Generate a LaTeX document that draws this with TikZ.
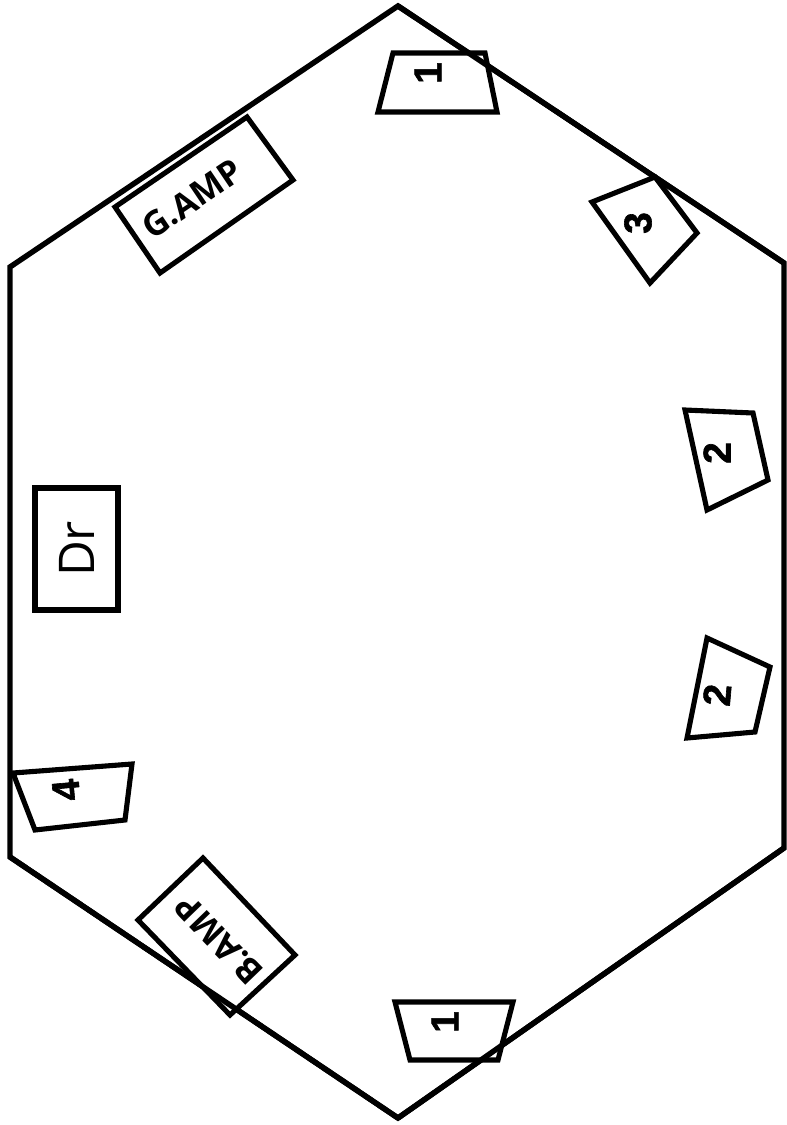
\documentclass[tikz,border=0pt]{standalone}
\usepackage{fontspec}
\setmainfont{Open Sans}
\newfontfamily\numfont{Liberation Sans}[BoldFeatures={FakeBold=1.6}]
\usetikzlibrary{positioning}

\tikzset{
  outline/.style={draw=black, line width=3.1pt},
  wedge/.style={draw=black, line width=2.9pt, fill=white},
  num/.style={font=\numfont\bfseries\fontsize{22}{22}\selectfont, inner sep=0pt},
  amplabel/.style={font=\bfseries\fontsize{19.5}{19.5}\selectfont, inner sep=0pt}
}

\begin{document}
\begin{tikzpicture}[x=0.02cm, y=-0.02cm]
\useasboundingbox (0,0) rectangle (787,1125);

% Stage outline
\draw[outline] (398,6) -- (784,263) -- (784,848) -- (398,1118) -- (10,857) -- (10,267) -- cycle;

% Guitar amp
\draw[wedge] (115,207) -- (247,117) -- (293,180) -- (160,273) -- cycle;
\node[amplabel, rotate=34] (gamp) at (192,199) {G.AMP};

% Bass amp
\draw[wedge] (138,920) -- (203,858) -- (295,955) -- (230,1015) -- cycle;
\node[amplabel, rotate=134] (bamp) at (219,940) {B.AMP};

% Drums
\draw[wedge] (35,488) rectangle (118,610);
\node[font=\fontsize{28}{28}\selectfont, rotate=90, inner sep=0pt] (drums) at (77,549) {Dr};

% Monitors
\draw[wedge] (393,53) -- (485,53) -- (497,112) -- (378,112) -- cycle;
\node[num, rotate=90] (mon1a) at (428,73) {1};

\draw[wedge] (592,202) -- (655,177) -- (697,233) -- (650,283) -- cycle;
\node[num, rotate=90] (mon3) at (638,223) {3};

\draw[wedge] (685,410) -- (753,413) -- (768,480) -- (707,510) -- cycle;
\node[num, rotate=90] (mon2a) at (717,453) {2};

\draw[wedge] (707,638) -- (770,667) -- (755,732) -- (687,738) -- cycle;
\node[num, rotate=85] (mon2b) at (717,695) {2};

\draw[wedge] (13,773) -- (132,764) -- (125,820) -- (35,830) -- cycle;
\node[num, rotate=95] (mon4) at (66,790) {4};

\draw[wedge] (395,1002) -- (513,1002) -- (498,1060) -- (410,1060) -- cycle;
\node[num, rotate=90] (mon1b) at (445,1022) {1};

% Stage edge over boxes
\draw[outline] (784,263) -- (398,6);
\draw[outline] (398,1118) -- (784,848);
\draw[outline] (10,857) -- (398,1118);
\end{tikzpicture}
\end{document}
